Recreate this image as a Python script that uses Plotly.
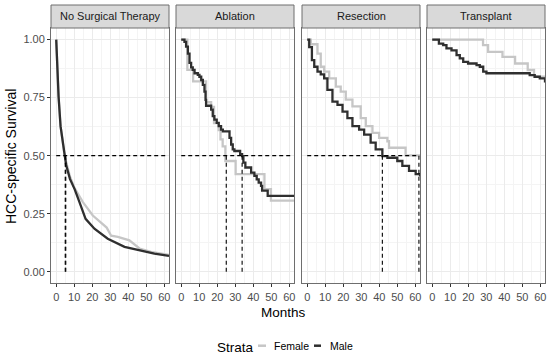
import plotly.graph_objects as go

# ---------------- data ----------------
panels = ["No Surgical Therapy", "Ablation", "Resection", "Transplant"]
x_ticks = [0, 10, 20, 30, 40, 50, 60]
y_ticks = [0.0, 0.25, 0.5, 0.75, 1.0]
y_tick_labels = ["0.00", "0.25", "0.50", "0.75", "1.00"]
strata = ["Female", "Male"]

nst_male_t = [0, 0.55, 1.3, 2.4, 4.6, 5.5, 7.6, 10.2, 12.9, 16.3, 21.2, 28.6, 37.9, 46.2, 54.5, 62.6]
nst_male_s = [1.0, 0.87, 0.755, 0.627, 0.5, 0.46, 0.40, 0.356, 0.30, 0.228, 0.185, 0.142, 0.107, 0.092, 0.078, 0.068]
nst_female_t = [0, 0.55, 1.3, 2.4, 4.6, 7.6, 10.2, 14.8, 20.3, 25.0, 28.0, 30.5, 34.2, 40.6, 46.2, 52.6, 62.6]
nst_female_s = [1.0, 0.87, 0.755, 0.627, 0.5, 0.41, 0.36, 0.30, 0.242, 0.21, 0.19, 0.155, 0.15, 0.135, 0.10, 0.085, 0.072]

abl_male_t = [0, 1.8, 2.7, 3.7, 4.6, 5.5, 6.4, 7.4, 9.2, 10.1, 11.1, 12.0, 12.9, 13.5, 13.8, 16.6, 17.5,
              18.4, 19.7, 20.8, 22.1, 23.1, 26.8, 27.7, 28.6, 29.5, 32.7, 33.8, 34.5, 35.6, 38.8, 40.6,
              41.9, 43.0, 44.3, 44.9, 48.0, 62.6]
abl_male_s = [1.0, 0.99, 0.97, 0.94, 0.90, 0.88, 0.87, 0.855, 0.848, 0.84, 0.826, 0.805, 0.776, 0.74, 0.715,
              0.698, 0.67, 0.655, 0.641, 0.627, 0.612, 0.605, 0.577, 0.548, 0.527, 0.52, 0.506, 0.498, 0.47,
              0.449, 0.427, 0.413, 0.398, 0.384, 0.37, 0.349, 0.327, 0.327]
abl_female_t = [0, 3.4, 6.6, 13.8, 16.6, 18.2, 20.8, 21.8, 23.0, 24.5, 30.2, 46.2, 49.8, 62.6]
abl_female_s = [1.0, 0.87, 0.82, 0.73, 0.71, 0.64, 0.61, 0.57, 0.54, 0.477, 0.42, 0.356, 0.306, 0.306]

res_male_t = [0, 1.1, 2.6, 3.9, 5.7, 7.5, 9.4, 11.2, 14.0, 16.8, 19.6, 22.3, 25.1, 28.8, 31.6, 35.2, 38.0,
              41.7, 44.5, 50.0, 52.8, 56.5, 60.2, 62.6]
res_male_s = [1.0, 0.968, 0.912, 0.883, 0.862, 0.85, 0.833, 0.783, 0.733, 0.719, 0.69, 0.662, 0.627, 0.612,
              0.591, 0.556, 0.527, 0.498, 0.491, 0.477, 0.456, 0.434, 0.42, 0.41]
res_female_t = [0, 2.0, 5.7, 7.5, 9.4, 12.2, 15.9, 18.6, 21.4, 25.1, 29.7, 32.5, 36.2, 39.9, 44.5, 45.4,
                54.6, 62.6]
res_female_s = [1.0, 0.98, 0.94, 0.883, 0.862, 0.833, 0.797, 0.776, 0.741, 0.712, 0.662, 0.627, 0.598, 0.577,
                0.562, 0.534, 0.501, 0.501]

tra_male_t = [0, 3.7, 6.1, 7.9, 10.7, 13.5, 15.3, 17.2, 19.9, 24.6, 26.4, 28.3, 30.1, 54.1, 56.9, 59.7, 62.6]
tra_male_s = [1.0, 0.983, 0.976, 0.962, 0.954, 0.933, 0.919, 0.904, 0.897, 0.89, 0.883, 0.862, 0.855, 0.847,
              0.84, 0.833, 0.815]
tra_female_t = [0, 28.2, 31.0, 39.0, 46.0, 53.0, 56.5, 62.6]
tra_female_s = [1.0, 0.976, 0.947, 0.926, 0.897, 0.869, 0.84, 0.84]

male_t = [nst_male_t, abl_male_t, res_male_t, tra_male_t]
male_s = [nst_male_s, abl_male_s, res_male_s, tra_male_s]
female_t = [nst_female_t, abl_female_t, res_female_t, tra_female_t]
female_s = [nst_female_s, abl_female_s, res_female_s, tra_female_s]
median_male = [5.0, 33.8, 41.7, None]
median_female = [5.3, 25.0, 62.0, None]

# ---------------- style ----------------
W, H = 550, 358
FONT = "Liberation Sans, Arial, sans-serif"
MALE_C = "#2f2f2f"
FEMALE_C = "#c6c6c6"
BORDER_C = "#6e6e6e"
panel_px = [(51, 169), (176, 294), (302, 420), (427, 545)]
top_px, bot_px = 28, 283.3
strip_top_px = 5
x_range = [-2.9, 62.6]
y_range = [-0.05, 1.05]

fig = go.Figure()
all_meds = [m for m in median_male + median_female if m is not None]
max_med = max(all_meds)

for i in range(4):
    xa = "x" if i == 0 else f"x{i+1}"
    ya = "y" if i == 0 else f"y{i+1}"
    fig.add_trace(go.Scatter(x=female_t[i], y=female_s[i], mode="lines",
                             line=dict(color=FEMALE_C, width=2.3, shape="linear" if i == 0 else "hv"),
                             xaxis=xa, yaxis=ya, showlegend=False, name="Female"))
    fig.add_trace(go.Scatter(x=male_t[i], y=male_s[i], mode="lines",
                             line=dict(color=MALE_C, width=2.3, shape="linear" if i == 0 else "hv"),
                             xaxis=xa, yaxis=ya, showlegend=False, name="Male"))
    meds = [m for m in (median_male[i], median_female[i]) if m is not None]
    if meds:
        fig.add_trace(go.Scatter(x=[0, max_med], y=[0.5, 0.5], mode="lines",
                                 line=dict(color="black", width=1.1, dash="4px,3px"),
                                 xaxis=xa, yaxis=ya, showlegend=False, hoverinfo="skip"))
        for m in meds:
            fig.add_trace(go.Scatter(x=[m, m], y=[0, 0.5], mode="lines",
                                     line=dict(color="black", width=1.1, dash="4px,3px"),
                                     xaxis=xa, yaxis=ya, showlegend=False, hoverinfo="skip"))

    x0, x1 = panel_px[i]
    xdom = [x0 / W, x1 / W]
    ydom = [1 - bot_px / H, 1 - top_px / H]
    xkey = "xaxis" if i == 0 else f"xaxis{i+1}"
    ykey = "yaxis" if i == 0 else f"yaxis{i+1}"
    fig.update_layout(**{
        xkey: dict(domain=xdom, anchor=ya, range=x_range, tickvals=x_ticks,
                   ticktext=[str(v) for v in x_ticks], ticks="outside", ticklen=3,
                   tickcolor="#333333", tickwidth=1,
                   tickfont=dict(family=FONT, size=11, color="#4d4d4d"),
                   showgrid=True, gridcolor="#ebebeb", gridwidth=1.1,
                   minor=dict(dtick=5, tick0=5, showgrid=True, gridcolor="#f4f4f4", gridwidth=0.6),
                   showline=True, mirror=True, linecolor=BORDER_C, linewidth=1,
                   zeroline=False, automargin=False, fixedrange=True),
        ykey: dict(domain=ydom, anchor=xa, range=y_range, tickvals=y_ticks,
                   ticktext=y_tick_labels if i == 0 else [""] * 5,
                   ticks="outside" if i == 0 else "", ticklen=3,
                   tickcolor="#333333", tickwidth=1,
                   tickfont=dict(family=FONT, size=11, color="#4d4d4d"),
                   showticklabels=(i == 0),
                   showgrid=True, gridcolor="#ebebeb", gridwidth=1.1,
                   minor=dict(dtick=0.125, tick0=0.125, showgrid=True, gridcolor="#f4f4f4", gridwidth=0.6),
                   showline=True, mirror=True, linecolor=BORDER_C, linewidth=1,
                   zeroline=False, automargin=False, fixedrange=True),
    })
    fig.add_shape(type="rect", xref="paper", yref="paper",
                  x0=x0 / W, x1=x1 / W, y0=1 - top_px / H, y1=1 - strip_top_px / H,
                  fillcolor="#d9d9d9", line=dict(color=BORDER_C, width=1), layer="above")
    fig.add_annotation(text=panels[i], xref="paper", yref="paper",
                       x=(x0 + x1) / 2 / W, y=1 - (top_px + strip_top_px) / 2 / H,
                       xanchor="center", yanchor="middle", showarrow=False,
                       font=dict(family=FONT, size=11, color="#1a1a1a"))

fig.add_annotation(text="HCC-specific Survival", xref="paper", yref="paper",
                   x=11 / W, y=1 - 157 / H, textangle=-90, xanchor="center", yanchor="middle",
                   showarrow=False, font=dict(family=FONT, size=14, color="black"))
fig.add_annotation(text="Months", xref="paper", yref="paper",
                   x=283 / W, y=1 - 312 / H, xanchor="center", yanchor="middle",
                   showarrow=False, font=dict(family=FONT, size=13.5, color="black"))

fig.add_annotation(text="Strata", xref="paper", yref="paper", x=215 / W, y=1 - 347 / H,
                   xanchor="left", yanchor="middle", showarrow=False,
                   font=dict(family=FONT, size=13.5, color="black"))
legend_items = [(strata[0], FEMALE_C, 258, 266, 272), (strata[1], MALE_C, 314, 321, 328)]
for label, col, k0, k1, tx in legend_items:
    fig.add_shape(type="line", xref="paper", yref="paper", x0=k0 / W, x1=k1 / W,
                  y0=1 - 345.7 / H, y1=1 - 345.7 / H, line=dict(color=col, width=2.5))
    fig.add_annotation(text=label, xref="paper", yref="paper", x=tx / W, y=1 - 346 / H,
                       xanchor="left", yanchor="middle", showarrow=False,
                       font=dict(family=FONT, size=10.5, color="black"))

fig.update_layout(width=W, height=H, margin=dict(l=0, r=0, t=0, b=0),
                  paper_bgcolor="white", plot_bgcolor="white", showlegend=False)

fig.write_html("out.html", config={"displayModeBar": False},
               post_script="document.body.style.margin='0';document.body.style.overflow='hidden';")
